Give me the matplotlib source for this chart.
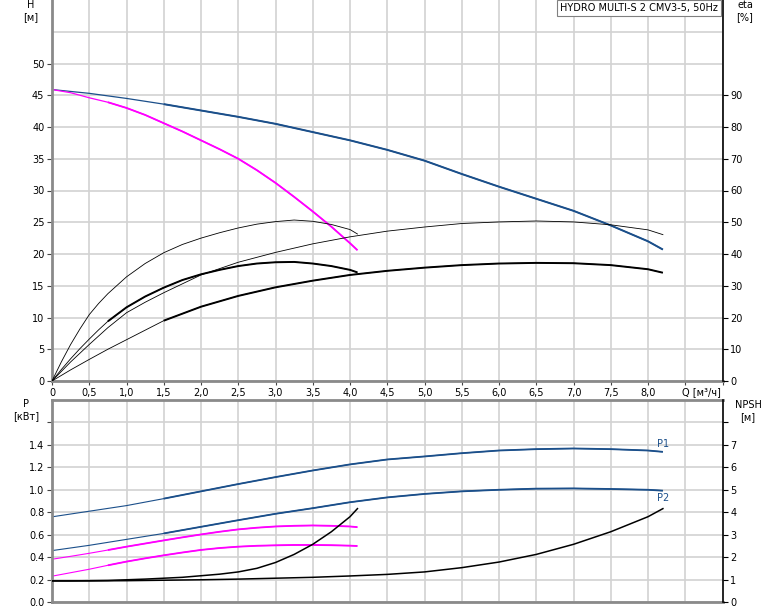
import matplotlib
matplotlib.use("Agg")
import matplotlib.pyplot as plt

plt.rcParams['font.family'] = ['DejaVu Sans']
plt.rcParams['font.size'] = 7

# --- data ---
# flow points, two pumps / one pump  [m3/h]
q_two = [0, 0.5, 1.0, 1.5, 2.0, 2.5, 3.0, 3.5, 4.0, 4.5, 5.0, 5.5, 6.0, 6.5, 7.0, 7.5, 8.0, 8.2]
q_one = [0, 0.25, 0.5, 0.75, 1.0, 1.25, 1.5, 1.75, 2.0, 2.25, 2.5, 2.75, 3.0, 3.25, 3.5, 3.75, 4.0, 4.1]

# head [m]
h_two = [45.9, 45.3, 44.5, 43.6, 42.6, 41.6, 40.5, 39.2, 37.9, 36.4, 34.7, 32.6, 30.6, 28.7, 26.8, 24.5, 22.0, 20.7]
h_one = [45.9, 45.4, 44.6, 43.9, 43.0, 41.9, 40.6, 39.3, 37.9, 36.5, 35.0, 33.2, 31.2, 29.0, 26.7, 24.3, 21.7, 20.6]

# efficiency [%], read more densely near zero flow
q_eta_two = [0, 0.25, 0.5, 0.75, 1.0, 1.25, 1.5, 2.0, 2.5, 3.0, 3.5, 4.0, 4.5, 5.0, 5.5, 6.0, 6.5, 7.0, 7.5, 8.0, 8.2]
eta_pump_two = [0, 6.0, 11.5, 16.8, 21.5, 24.8, 27.8, 33.4, 37.4, 40.5, 43.2, 45.4, 47.2, 48.5, 49.6, 50.1, 50.4, 50.1, 49.2, 47.6, 46.1]
eta_tot_two = [0, 3.5, 6.8, 10.0, 13.0, 16.0, 19.0, 23.4, 26.8, 29.5, 31.6, 33.4, 34.7, 35.7, 36.5, 37.0, 37.2, 37.1, 36.5, 35.2, 34.1]

q_eta_one = [0, 0.125, 0.25, 0.375, 0.5, 0.625, 0.75, 1.0, 1.25, 1.5, 1.75, 2.0, 2.25, 2.5, 2.75, 3.0, 3.25, 3.5, 3.75, 4.0, 4.1]
eta_pump_one = [0, 6.0, 11.5, 16.4, 20.9, 24.4, 27.5, 32.8, 37.0, 40.4, 43.0, 45.0, 46.7, 48.2, 49.4, 50.2, 50.7, 50.3, 49.3, 47.7, 46.3]
eta_tot_one = [0, 3.6, 7.0, 10.2, 13.2, 16.1, 18.8, 23.2, 26.6, 29.4, 31.8, 33.6, 35.0, 36.2, 37.0, 37.4, 37.5, 37.0, 36.2, 35.0, 34.2]

# power [kW]
p1_two = [0.759, 0.809, 0.859, 0.921, 0.986, 1.051, 1.113, 1.172, 1.226, 1.27, 1.297, 1.326, 1.35, 1.362, 1.368, 1.362, 1.35, 1.338]
p2_two = [0.458, 0.505, 0.558, 0.611, 0.670, 0.729, 0.786, 0.836, 0.889, 0.932, 0.963, 0.986, 1.0, 1.01, 1.012, 1.007, 1.0, 0.992]
p1_one = [0.381, 0.407, 0.434, 0.463, 0.493, 0.521, 0.549, 0.576, 0.602, 0.626, 0.647, 0.662, 0.673, 0.679, 0.682, 0.679, 0.673, 0.667]
p2_one = [0.230, 0.261, 0.292, 0.327, 0.360, 0.389, 0.416, 0.441, 0.464, 0.481, 0.493, 0.501, 0.505, 0.508, 0.508, 0.506, 0.502, 0.499]

# NPSH [m]
npsh_two = [0.94, 0.94, 0.95, 0.97, 0.99, 1.02, 1.06, 1.10, 1.16, 1.23, 1.34, 1.53, 1.78, 2.12, 2.57, 3.13, 3.80, 4.16]
npsh_one = [0.94, 0.94, 0.95, 0.96, 0.99, 1.02, 1.06, 1.10, 1.17, 1.24, 1.34, 1.50, 1.76, 2.12, 2.57, 3.13, 3.80, 4.16]

# start of the recommended range (thick part of curves)
qmin_two = 1.5
qmin_one = 0.75

x_ticks = [0, 0.5, 1.0, 1.5, 2.0, 2.5, 3.0, 3.5, 4.0, 4.5, 5.0, 5.5, 6.0, 6.5, 7.0, 7.5, 8.0, 8.5]
x_labels = ['0', '0,5', '1,0', '1,5', '2,0', '2,5', '3,0', '3,5', '4,0', '4,5',
            '5,0', '5,5', '6,0', '6,5', '7,0', '7,5', '8,0', '']

BLUE = '#1b4f8a'
MAGENTA = '#ff00ff'
GRID = '#d2d2d2'
SPINE = '#8a8a8a'


def draw_curve(ax, q, v, qmin, color, lw_thin, lw_thick):
    ax.plot(q, v, color=color, lw=lw_thin, solid_capstyle='butt')
    i = q.index(qmin)
    ax.plot(q[i:], v[i:], color=color, lw=lw_thick, solid_capstyle='butt')


def style_axes(ax, axr, top=True):
    for s in ['left', 'top', 'bottom']:
        ax.spines[s].set_color(SPINE)
        ax.spines[s].set_linewidth(2.0)
        axr.spines[s].set_visible(False)
    ax.spines['top'].set_visible(top)
    ax.spines['right'].set_visible(False)
    axr.spines['right'].set_color('black')
    axr.spines['right'].set_linewidth(1.2)
    ax.tick_params(axis='y', length=3.5, width=0.8, pad=2, color='#444444')
    axr.tick_params(axis='y', length=3.5, width=0.8, pad=2, color='black')
    ax.set_xlim(0, 9)
    ax.set_axisbelow(True)


fig = plt.figure(figsize=(7.74, 6.11), dpi=100)
ax1 = fig.add_axes([52 / 774, 230 / 611, 670.5 / 774, 381 / 611])
ax1r = ax1.twinx()
ax2 = fig.add_axes([52 / 774, 9 / 611, 670.5 / 774, 202 / 611])
ax2r = ax2.twinx()

# ---- top panel: H and eta ----
ax1.set_ylim(0, 60)
ax1r.set_ylim(0, 120)
ax1.set_yticks(list(range(0, 60, 5)))
ax1.set_yticklabels([str(v) for v in range(0, 55, 5)] + [''])
ax1.yaxis.get_major_ticks()[-1].tick1line.set_visible(False)
ax1r.set_yticks(list(range(0, 100, 10)))
ax1.set_xticks(x_ticks + [9.0])
ax1.set_xticklabels(x_labels + [''])
ax1.tick_params(axis='x', length=3, width=0.8, pad=2, color='#444444')
ax1.grid(True, color=GRID, lw=1.2)
style_axes(ax1, ax1r, top=False)

draw_curve(ax1, q_two, h_two, qmin_two, BLUE, 0.9, 1.4)
draw_curve(ax1, q_one, h_one, qmin_one, MAGENTA, 0.9, 1.3)
ax1r.plot(q_eta_two, eta_pump_two, color='black', lw=0.6)
ax1r.plot(q_eta_one, eta_pump_one, color='black', lw=0.6)
draw_curve(ax1r, q_eta_two, eta_tot_two, qmin_two, 'black', 0.6, 1.4)
draw_curve(ax1r, q_eta_one, eta_tot_one, qmin_one, 'black', 0.6, 1.4)

ax1.annotate('Q [м³/ч]', xy=(8.72, 0), xycoords=('data', 'axes fraction'),
             xytext=(0, -4.5), textcoords='offset points', ha='center', va='top')

# ---- bottom panel: P and NPSH ----
ax2.set_ylim(0, 1.8)
ax2r.set_ylim(0, 9)
ax2.set_yticks([0, 0.2, 0.4, 0.6, 0.8, 1.0, 1.2, 1.4, 1.6])
ax2.set_yticklabels(['0.0', '0.2', '0.4', '0.6', '0.8', '1.0', '1.2', '1.4', ''])
ax2r.set_yticks(list(range(0, 9)))
ax2r.set_yticklabels([str(v) for v in range(0, 8)] + [''])
ax2.set_xticks(x_ticks)
ax2.set_xticklabels([])
ax2.tick_params(axis='x', length=0)
ax2.grid(True, color=GRID, lw=1.2)
style_axes(ax2, ax2r)

draw_curve(ax2, q_two, p1_two, qmin_two, BLUE, 0.8, 1.3)
draw_curve(ax2, q_two, p2_two, qmin_two, BLUE, 0.8, 1.3)
draw_curve(ax2, q_one, p1_one, qmin_one, MAGENTA, 0.8, 1.3)
draw_curve(ax2, q_one, p2_one, qmin_one, MAGENTA, 0.8, 1.3)
ax2r.plot(q_two, npsh_two, color='black', lw=1.1)
ax2r.plot(q_one, npsh_one, color='black', lw=1.1)

ax2.annotate('P1', xy=(q_two[-1], p1_two[-1]), xytext=(0, 5.5), textcoords='offset points',
             ha='center', va='center', color=BLUE)
ax2.annotate('P2', xy=(q_two[-1], p2_two[-1]), xytext=(0, -5.5), textcoords='offset points',
             ha='center', va='center', color=BLUE)

# axis titles
fig.text(31 / 774, 1 - 5 / 611, 'H', ha='center', va='center')
fig.text(31 / 774, 1 - 17 / 611, '[м]', ha='center', va='center')
fig.text(745 / 774, 1 - 5 / 611, 'eta', ha='center', va='center')
fig.text(745 / 774, 1 - 17 / 611, '[%]', ha='center', va='center')
fig.text(26 / 774, 1 - 404 / 611, 'P', ha='center', va='center')
fig.text(26 / 774, 1 - 416 / 611, '[кВт]', ha='center', va='center')
fig.text(748 / 774, 1 - 405 / 611, 'NPSH', ha='center', va='center')
fig.text(748 / 774, 1 - 417 / 611, '[м]', ha='center', va='center')

fig.text(560 / 774, 1 - 8 / 611, 'HYDRO MULTI-S 2 CMV3-5, 50Hz', ha='left', va='center',
         bbox=dict(boxstyle='square,pad=0.3', fc='white', ec='#808080', lw=0.8))

fig.savefig('out.png', dpi=100)
